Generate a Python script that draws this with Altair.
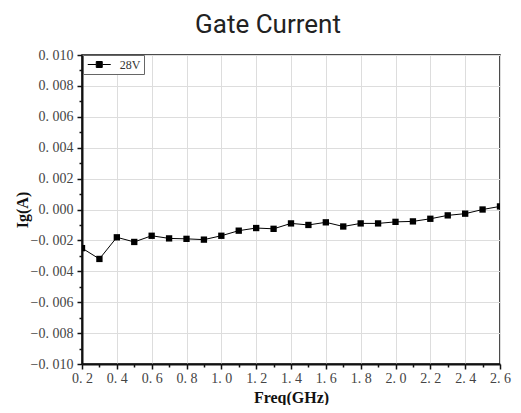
import altair as alt
import pandas as pd

freq = [0.2, 0.3, 0.4, 0.5, 0.6, 0.7, 0.8, 0.9, 1.0, 1.1, 1.2, 1.3, 1.4,
        1.5, 1.6, 1.7, 1.8, 1.9, 2.0, 2.1, 2.2, 2.3, 2.4, 2.5, 2.6]
ig = [-0.0025, -0.0032, -0.0018, -0.0021, -0.0017, -0.00187, -0.0019, -0.00195,
      -0.0017, -0.00137, -0.0012, -0.00125, -0.0009, -0.0010, -0.00083, -0.0011,
      -0.0009, -0.0009, -0.0008, -0.00077, -0.0006, -0.00038, -0.00027, 0.0, 0.0002]
series = ["28V"] * len(freq)

x_ticks = [0.2, 0.3, 0.4, 0.5, 0.6, 0.7, 0.8, 0.9, 1.0, 1.1, 1.2, 1.3, 1.4,
           1.5, 1.6, 1.7, 1.8, 1.9, 2.0, 2.1, 2.2, 2.3, 2.4, 2.5, 2.6]
y_ticks = [-0.010, -0.009, -0.008, -0.007, -0.006, -0.005, -0.004, -0.003, -0.002,
           -0.001, 0.0, 0.001, 0.002, 0.003, 0.004, 0.005, 0.006, 0.007, 0.008,
           0.009, 0.010]

df = pd.DataFrame({"freq": freq, "ig": ig, "series": series})

FONT = "Liberation Serif"
x_major = "abs(round(datum.value*10)) % 2 == 0"
y_major = "abs(round(datum.value*1000)) % 2 == 0"

x_axis = alt.Axis(
    values=x_ticks,
    title="Freq(GHz)",
    labelExpr=f"({x_major}) ? replace(format(datum.value, '.1f'), '.', '. ') : ''",
    labelFont=FONT, labelFontSize=14, labelColor="#444", labelPadding=2,
    labelFlush=False, labelOverlap=False,
    titleFont=FONT, titleFontSize=16, titleFontWeight="bold", titleColor="#111",
    titlePadding=4,
    tickSize={"condition": {"test": x_major, "value": 5}, "value": 3},
    tickColor="#111", tickWidth=1.5,
    gridOpacity={"condition": {"test": x_major, "value": 1}, "value": 0},
    gridColor="#dddddd", gridWidth=1,
    domainColor="#111", domainWidth=2,
)
y_axis = alt.Axis(
    values=y_ticks,
    title="Ig(A)",
    labelExpr=f"({y_major}) ? replace(format(datum.value, '.3f'), '.', '. ') : ''",
    labelFont=FONT, labelFontSize=14, labelColor="#444", labelPadding=4,
    labelFlush=False, labelOverlap=False,
    titleFont=FONT, titleFontSize=16, titleFontWeight="bold", titleColor="#111",
    titlePadding=0,
    tickSize={"condition": {"test": y_major, "value": 5}, "value": 3},
    tickColor="#111", tickWidth=1.5,
    gridOpacity={"condition": {"test": y_major, "value": 1}, "value": 0},
    gridColor="#dddddd", gridWidth=1,
    domainColor="#111", domainWidth=2,
)

legend_symbol = "M-2,0H-0.55M0.55,0H2M-0.52,-0.52H0.52V0.52H-0.52Z"

chart = alt.Chart(df).mark_line(
    point=alt.OverlayMarkDef(shape="square", size=40, filled=True, color="black"),
    color="black", strokeWidth=1, clip=True,
).encode(
    x=alt.X("freq:Q", scale=alt.Scale(domain=[0.2, 2.6], nice=False, zero=False), axis=x_axis),
    y=alt.Y("ig:Q", scale=alt.Scale(domain=[-0.010, 0.010], nice=False), axis=y_axis),
    color=alt.Color("series:N", scale=alt.Scale(range=["black"]),
                    legend=alt.Legend(
                        title=None, orient="none", legendX=1, legendY=0,
                        symbolType=legend_symbol, symbolSize=132,
                        symbolStrokeColor="black", symbolFillColor="black",
                        symbolStrokeWidth=1, symbolOffset=6.75, labelOffset=14,
                        labelFont=FONT, labelFontSize=12, labelColor="#333",
                        padding=3, strokeColor="#666", fillColor="white",
                    )),
).properties(
    width=418, height=309,
    title=alt.TitleParams("Gate Current", font="Roboto", fontSize=26,
                          fontWeight="normal", color="#222", anchor="middle",
                          dx=-23, offset=10),
    autosize=alt.AutoSizeParams(type="none"),
    padding={"left": 74, "top": 47, "right": 13, "bottom": 41},
).configure_view(stroke="#111", strokeWidth=1.5)

chart.save("out.html", embed_options={"renderer": "svg", "actions": False})
